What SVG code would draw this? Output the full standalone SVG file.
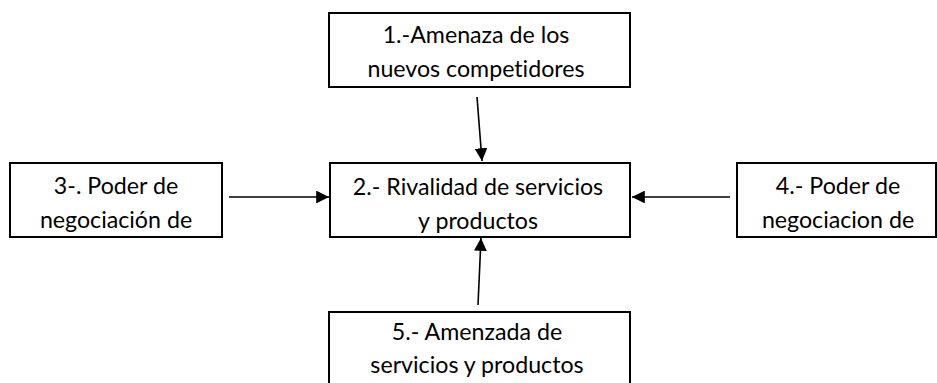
<svg xmlns="http://www.w3.org/2000/svg" width="937" height="383" viewBox="0 0 937 383">
  <style>
    .box { fill: #ffffff; stroke: #000000; stroke-width: 2; }
    .lbl { font-family: "Lato", "Open Sans", "Liberation Sans", sans-serif; font-size: 23.2px; fill: #000000; text-anchor: middle; font-variant-ligatures: none; }
    .conn { stroke: #000000; stroke-width: 1.6; fill: none; marker-end: url(#head); }
  </style>
  <defs>
    <marker id="head" viewBox="0 0 10 10" refX="10" refY="5" markerWidth="8" markerHeight="8" markerUnits="strokeWidth" orient="auto">
      <path d="M0,0 L10,5 L0,10 Z" fill="#000000"/>
    </marker>
  </defs>
  <rect width="937" height="383" fill="#ffffff"/>

  <g id="connectors">
    <line class="conn" x1="477" y1="97" x2="482" y2="161"/>
    <line class="conn" x1="229" y1="197" x2="329" y2="197"/>
    <line class="conn" x1="730" y1="197" x2="632" y2="197"/>
    <line class="conn" x1="478" y1="305" x2="481" y2="238"/>
  </g>

  <g id="n1">
    <rect class="box" x="329" y="13" width="301" height="74"/>
    <text class="lbl" x="476" y="43">1.-Amenaza de los</text>
    <text class="lbl" x="476" y="77">nuevos competidores</text>
  </g>

  <g id="n2">
    <rect class="box" x="330" y="163" width="300" height="74"/>
    <text class="lbl" x="478" y="195">2.- Rivalidad de servicios</text>
    <text class="lbl" x="478" y="229">y productos</text>
  </g>

  <g id="n3">
    <rect class="box" x="10" y="163" width="212" height="74"/>
    <text class="lbl" x="116" y="194">3-. Poder de</text>
    <text class="lbl" x="116" y="228">negociación de</text>
  </g>

  <g id="n4">
    <rect class="box" x="737" y="163" width="199" height="74"/>
    <text class="lbl" x="838" y="194">4.- Poder de</text>
    <text class="lbl" x="838" y="228">negociacion de</text>
  </g>

  <g id="n5">
    <rect class="box" x="329" y="312" width="301" height="80"/>
    <text class="lbl" x="477" y="340">5.- Amenzada de</text>
    <text class="lbl" x="477" y="373">servicios y productos</text>
  </g>
</svg>
